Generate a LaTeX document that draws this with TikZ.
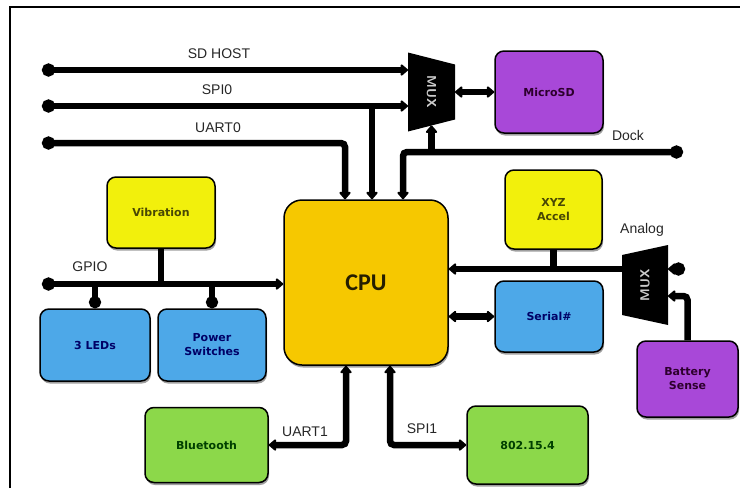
\documentclass[tikz,border=0pt]{standalone}
\usepackage{fontspec}
\setmainfont{Liberation Sans}
\newfontfamily\boxfont{DejaVu Sans}
\newfontfamily\cpufont{Carlito}
\usetikzlibrary{arrows.meta,shadows}
\definecolor{myYellow}{HTML}{F2F00C}
\definecolor{myGold}{HTML}{F6C800}
\definecolor{myBlue}{HTML}{4DA8E8}
\definecolor{myGreen}{HTML}{8CD84A}
\definecolor{myPurple}{HTML}{A848D8}
\newcommand{\myBoxFont}{\boxfont\bfseries\fontsize{11}{14}\selectfont}

\begin{document}
\begin{tikzpicture}[x=1pt,y=-1pt,>={Triangle[round,length=8pt,width=13pt]},
	Bus/.style={black,line width=6.5pt,rounded corners=4pt},
	Block/.style={rectangle,rounded corners=9pt,draw=black,line width=1.5pt,
		inner sep=0pt,align=center,font=\myBoxFont,
		drop shadow={shadow xshift=1pt,shadow yshift=-2.5pt,fill=black!75}},
	Yel/.style={Block,fill=myYellow,text=black!70!myYellow},
	Blu/.style={Block,fill=myBlue,text=blue!40!black},
	Grn/.style={Block,fill=myGreen,text=green!25!black},
	Pur/.style={Block,fill=myPurple,text=violet!35!black},
	Cpu/.style={Block,rounded corners=18pt,fill=myGold,text=black!85!myGold,
		font=\cpufont\bfseries\fontsize{24}{28}\selectfont},
	Mux/.style={rectangle,inner sep=0pt,outer sep=0pt,text=black!20,
		font=\sffamily\bfseries\fontsize{13}{13}\selectfont},
	MuxL/.style={Mux,path picture={\fill[black]
		(path picture bounding box.north west)
		-- ([yshift=-12pt]path picture bounding box.north east)
		-- ([yshift=12pt]path picture bounding box.south east)
		-- (path picture bounding box.south west) -- cycle;}},
	MuxR/.style={Mux,path picture={\fill[black]
		([yshift=-10pt]path picture bounding box.north west)
		-- (path picture bounding box.north east)
		-- (path picture bounding box.south east)
		-- ([yshift=10pt]path picture bounding box.south west) -- cycle;}},
	BusLabel/.style={text=black!85,font=\fontsize{14}{16}\selectfont},
]
	\useasboundingbox (0,0) rectangle (740,488);

	% frame
	\draw[line width=2pt] (10,488) -- (10,7) -- (740,7);

	% blocks
	\node[Cpu,minimum width=164pt,minimum height=165pt] (cpu) at (366,282.5) {CPU};
	\node[Pur,minimum width=108pt,minimum height=82pt] (microsd) at (549,92) {MicroSD};
	\node[Yel,minimum width=108pt,minimum height=71pt] (vib) at (161,212.5) {Vibration};
	\node[Blu,minimum width=110pt,minimum height=72pt] (leds) at (95,345) {3 LEDs};
	\node[Blu,minimum width=108pt,minimum height=72pt] (pwr) at (212,345) {Power\\Switches};
	\node[Yel,minimum width=97pt,minimum height=79pt] (accel) at (553.5,209.5) {XYZ\\Accel};
	\node[Blu,minimum width=108pt,minimum height=71pt] (serial) at (549,316.5) {Serial\#};
	\node[Pur,minimum width=101pt,minimum height=76pt] (batt) at (687.5,379) {Battery\\Sense};
	\node[Grn,minimum width=123pt,minimum height=75pt] (bt) at (206.5,445) {Bluetooth};
	\node[Grn,minimum width=121pt,minimum height=78pt] (zigbee) at (527.5,445) {802.15.4};

	% multiplexers
	\node[MuxL,minimum width=47pt,minimum height=79pt] (mux1) at (431.5,92) {\rotatebox{-90}{MUX}};
	\node[MuxR,minimum width=46pt,minimum height=80pt] (mux2) at (645,285) {\rotatebox{90}{MUX}};

	% free ends
	\coordinate (sdIn) at (42,70);
	\coordinate (spiIn) at (42,106);
	\coordinate (uartIn) at (42,143);
	\coordinate (gpioIn) at (42,284);
	\coordinate (dockOut) at (683,152);
	\coordinate (anaIn) at (685,269);
	\coordinate (battTap) at (688,296);
	\coordinate (cpuUart) at ([xshift=-21pt]cpu.north);
	\coordinate (cpuSpi) at ([xshift=6pt]cpu.north);
	\coordinate (cpuDock) at ([xshift=37pt]cpu.north);
	\coordinate (cpuUart1) at ([xshift=-20pt]cpu.south);
	\coordinate (cpuSpi1) at ([xshift=24pt]cpu.south);
	\coordinate (muxDock) at ([yshift=6pt]mux1.south);

	% buses
	\draw[Bus,{Circle[length=13pt]}->] (sdIn) -- (sdIn -| mux1.west);
	\draw[Bus,{Circle[length=13pt]}->] (spiIn) -- (spiIn -| mux1.west);
	\draw[Bus,->] (cpuSpi |- spiIn) -- (cpuSpi);
	\draw[Bus,{Circle[length=13pt]}->] (uartIn) -- (cpuUart |- uartIn) -- (cpuUart);
	\draw[Bus,{Circle[length=13pt]}->] (dockOut) -- (cpuDock |- dockOut) -- (cpuDock);
	\draw[Bus,->] (muxDock |- dockOut) -- (muxDock);
	\draw[Bus,<->] (mux1.east) -- (microsd.west);

	\draw[Bus,{Circle[length=13pt]}->] (gpioIn) -- (cpu.west |- gpioIn);
	\draw[Bus] (vib.south) -- (vib.south |- gpioIn);
	\draw[Bus,-{Circle[length=12pt]}] (leds.north |- gpioIn) -- (leds.north);
	\draw[Bus,-{Circle[length=12pt]}] (pwr.north |- gpioIn) -- (pwr.north);

	\draw[Bus,->] (mux2.west |- anaIn) -- (cpu.east |- anaIn);
	\draw[Bus] (accel.south) -- (accel.south |- anaIn);
	\draw[Bus,{Circle[length=13pt]}->] (anaIn) -- (anaIn -| mux2.east);
	\draw[Bus,->] (batt.north) -- (batt.north |- battTap) -- (battTap -| mux2.east);
	\draw[Bus,<->] (cpu.east |- serial.west) -- (serial.west);

	\draw[Bus,<->] (cpuUart1) |- (bt.east);
	\draw[Bus,<->] (cpuSpi1) |- (zigbee.west);

	% labels
	\node[BusLabel] (lblSd) at (219,54) {SD HOST};
	\node[BusLabel] (lblSpi) at (217,90) {SPI0};
	\node[BusLabel] (lblUart) at (218,128) {UART0};
	\node[BusLabel] (lblDock) at (628,135) {Dock};
	\node[BusLabel] (lblGpio) at (90,267) {GPIO};
	\node[BusLabel] (lblAna) at (642,230) {Analog};
	\node[BusLabel] (lblUart1) at (305,432) {UART1};
	\node[BusLabel] (lblSpi1) at (422,429) {SPI1};
\end{tikzpicture}
\end{document}
